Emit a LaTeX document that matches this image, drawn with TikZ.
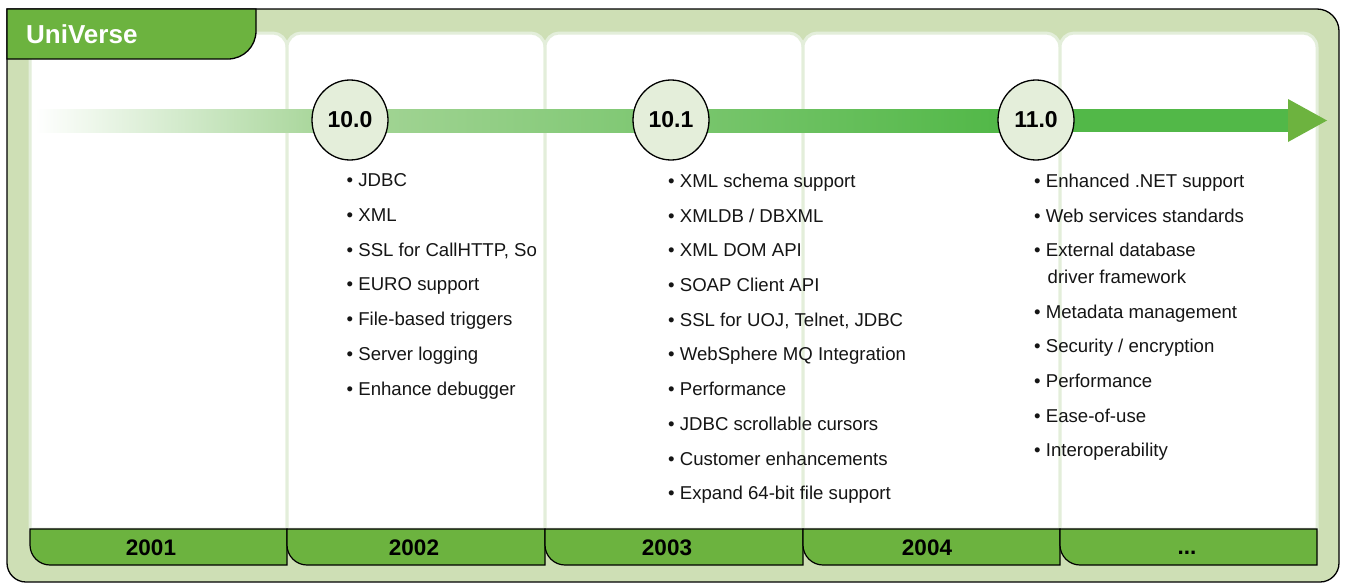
\documentclass[tikz,border=0pt]{standalone}
\usepackage{fontspec}
\setmainfont{Liberation Sans}
\usetikzlibrary{shapes.geometric}
\definecolor{bg}{HTML}{CEDFB5}
\definecolor{divl}{HTML}{E3EEDA}
\definecolor{tabg}{HTML}{6CB33F}
\definecolor{circf}{HTML}{E4EEDA}
\definecolor{barmid}{HTML}{A8D69A}
\definecolor{barend}{HTML}{52B848}
\definecolor{headg}{HTML}{6DB33F}
\definecolor{txt}{HTML}{151515}
\tikzset{
  item/.style={anchor=base west, inner sep=0pt, text=txt, font=\fontsize{18.6}{20}\selectfont},
  yearlab/.style={anchor=base, inner sep=0pt, text=black, font=\fontsize{22.5}{24}\selectfont\bfseries},
  ver/.style={ellipse, draw=black, line width=1.3pt, fill=circf, minimum width=76pt, minimum height=80pt, inner sep=0pt, text=black, font=\fontsize{23}{24}\selectfont\bfseries},
  panelbox/.style={fill=white, draw=divl, line width=3pt},
  yeartab/.style={fill=tabg, draw=black, line width=1.2pt},
  outerbox/.style={fill=bg, draw=black, line width=1.3pt},
}
\begin{document}
\begin{tikzpicture}[x=1pt,y=-1pt]
\useasboundingbox (0,0) rectangle (1347,584);
% outer frame
\draw[outerbox] (7,9) -- (1317,9) .. controls (1329.1,9) and (1339,18.9) .. (1339,31)
  -- (1339,563) .. controls (1339,573.5) and (1330.5,582) .. (1320,582)
  -- (26,582) .. controls (15.5,582) and (7,573.5) .. (7,563) -- cycle;
% white panels
\foreach \a/\b in {30/287, 287/545, 545/803, 803/1060, 1060/1317}{
  \draw[panelbox] (\a,529) -- (\a,47) .. controls (\a,39.3) and (\a+6.7,33) .. (\a+14,33)
    -- (\b-14,33) .. controls (\b-6.7,33) and (\b,39.3) .. (\b,47) -- (\b,529) -- cycle;
}
% timeline bar
\coordinate (tstart) at (35,120.5);
\coordinate (tend) at (1327,120.5);
\shade[left color=white, right color=barmid] (35,109) rectangle (320,132);
\shade[left color=barmid, right color=barend] (319.5,109) rectangle (1000,132);
\fill[barend] (999.5,109) rectangle (1289,132);
\fill[headg] (1288,99) -- (tend) -- (1288,142) -- cycle;
% version circles
\node[ver] (v100) at (350,120) {10.0};
\node[ver] (v101) at (671,120) {10.1};
\node[ver] (v110) at (1036,120) {11.0};
% column 2 items
\node[item] (a1) at (346.5,186.8) {• JDBC};
\node[item] (a2) at (346.5,221.5) {• XML};
\node[item] (a3) at (346.5,256.2) {• SSL for CallHTTP, So};
\node[item] (a4) at (346.5,290.9) {• EURO support};
\node[item] (a5) at (346.5,325.6) {• File-based triggers};
\node[item] (a6) at (346.5,360.3) {• Server logging};
\node[item] (a7) at (346.5,395.0) {• Enhance debugger};
% column 3 items
\node[item] (b1) at (668,187.3) {• XML schema support};
\node[item] (b2) at (668,222.0) {• XMLDB / DBXML};
\node[item] (b3) at (668,256.8) {• XML DOM API};
\node[item] (b4) at (668,291.5) {• SOAP Client API};
\node[item] (b5) at (668,326.2) {• SSL for UOJ, Telnet, JDBC};
\node[item] (b6) at (668,360.9) {• WebSphere MQ Integration};
\node[item] (b7) at (668,395.7) {• Performance};
\node[item] (b8) at (668,430.4) {• JDBC scrollable cursors};
\node[item] (b9) at (668,465.1) {• Customer enhancements};
\node[item] (b10) at (668,499.9) {• Expand 64-bit file support};
% column 4 items
\node[item] (c1) at (1034,187.3) {• Enhanced .NET support};
\node[item] (c2) at (1034,222.1) {• Web services standards};
\node[item] (c3) at (1034,256.8) {• External database};
\node[item] (c3b) at (1047.5,283.3) {driver framework};
\node[item] (c4) at (1034,318.2) {• Metadata management};
\node[item] (c5) at (1034,352.9) {• Security / encryption};
\node[item] (c6) at (1034,387.5) {• Performance};
\node[item] (c7) at (1034,422.1) {• Ease-of-use};
\node[item] (c8) at (1034,456.7) {• Interoperability};
% year tabs
\foreach \a/\b in {30/287, 287/545, 545/803, 803/1060, 1060/1317}{
  \draw[yeartab] (\a,529) -- (\b,529) -- (\b,565) -- (\a+20,565)
    .. controls (\a+9,565) and (\a,556) .. (\a,545) -- cycle;
}
\node[yearlab] (y1) at (151,555) {2001};
\node[yearlab] (y2) at (414,555) {2002};
\node[yearlab] (y3) at (667,555) {2003};
\node[yearlab] (y4) at (927,555) {2004};
\node[yearlab] (y5) at (1187,554) {...};
% UniVerse tab
\draw[fill=tabg, draw=black, line width=1.3pt] (7,9) -- (256,9) -- (256,31)
  .. controls (256,46.5) and (243.5,59) .. (228,59) -- (7,59) -- cycle;
\node[anchor=base west, inner sep=0pt, text=white, font=\fontsize{26}{28}\selectfont\bfseries] (title) at (26,43.3) {UniVerse};
\end{tikzpicture}
\end{document}
